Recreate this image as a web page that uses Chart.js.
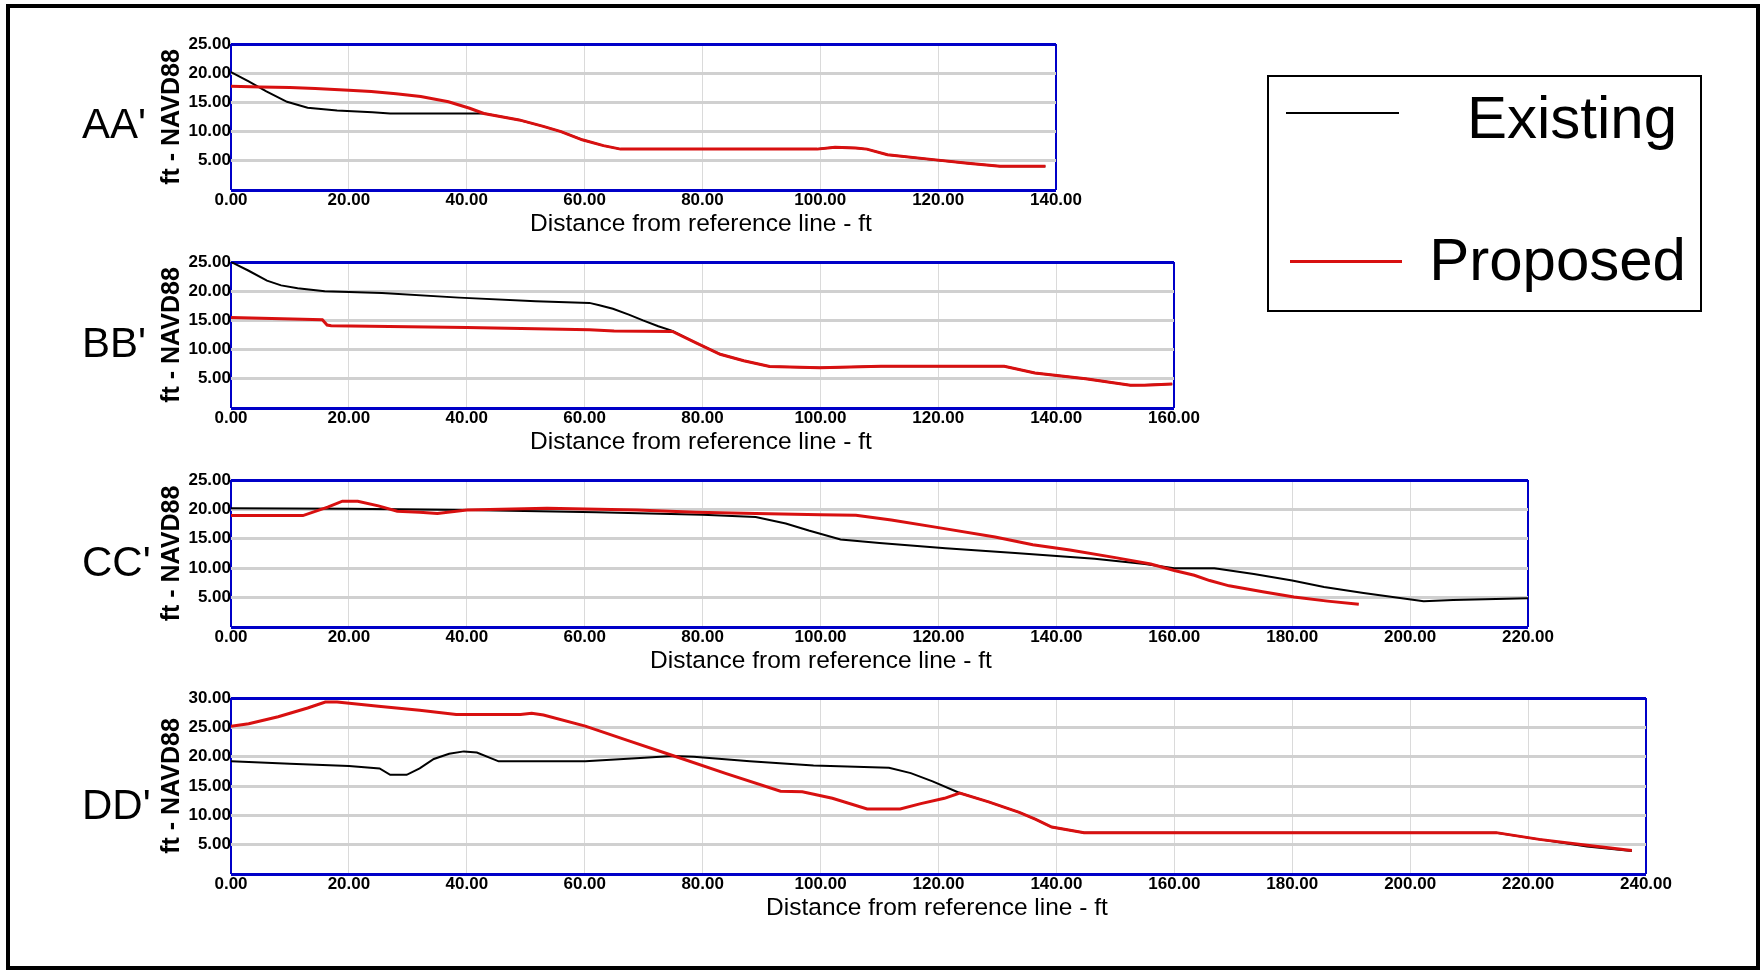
<!DOCTYPE html>
<html>
<head>
<meta charset="utf-8">
<script src="https://cdn.jsdelivr.net/npm/chart.js@4.4.1/dist/chart.umd.min.js"></script>
<style>
html,body{margin:0;padding:0;background:#fff;}
body{width:1761px;height:971px;position:relative;overflow:hidden;font-family:'Liberation Sans',Arial,sans-serif;color:#000;}
canvas{position:absolute;left:0;}
.frame{position:absolute;left:6px;top:4px;width:1754px;height:966px;border:4px solid #000;box-sizing:border-box;}
.sec{position:absolute;left:82px;font-size:42px;line-height:42px;white-space:nowrap;}
.xt{position:absolute;width:600px;text-align:center;font-size:24.5px;line-height:30px;white-space:nowrap;}
.legend{position:absolute;left:1267px;top:75px;width:435px;height:237px;border:2px solid #000;box-sizing:border-box;}
.lgline{position:absolute;}
.lgtext{position:absolute;font-size:60px;line-height:60px;text-align:right;white-space:nowrap;}
</style>
</head>
<body>
<div class="frame"></div>
<script>
// ---------------- data ----------------
const sections = ["AA'", "BB'", "CC'", "DD'"];
const seriesNames = ["Existing", "Proposed"];
const xAxisTitle = "Distance from reference line - ft";
const yAxisTitle = "ft - NAVD88";
const xMaxes = [140, 160, 220, 240];
const yMaxes = [25, 25, 25, 30];
const xStep = 20;
const yStep = 5;

// AA'
const aaExistingX = [0, 3, 6, 9.5, 13, 18, 24, 27, 43, 48.9, 53, 56, 59.6, 63.2, 66.1, 99.5, 102.5, 106, 107.9, 111.4, 119.2, 125, 130.5, 138.2];
const aaExistingY = [20.2, 18.6, 16.9, 15.1, 14.1, 13.6, 13.3, 13.1, 13.1, 12.0, 10.9, 10.0, 8.6, 7.6, 7.0, 7.0, 7.3, 7.2, 7.0, 6.05, 5.2, 4.6, 4.07, 4.07];
const aaProposedX = [0, 5, 10, 14.3, 20, 23.8, 28, 32.2, 36.9, 40.5, 42.9, 48.9, 53, 56, 59.6, 63.2, 66.1, 99.5, 102.5, 106, 107.9, 111.4, 119.2, 125, 130.5, 138.2];
const aaProposedY = [17.75, 17.65, 17.55, 17.4, 17.1, 16.85, 16.5, 16.0, 15.1, 14.0, 13.1, 12.0, 10.9, 10.0, 8.6, 7.6, 7.0, 7.0, 7.3, 7.2, 7.0, 6.05, 5.2, 4.6, 4.07, 4.07];

// BB'
const bbExistingX = [0, 3, 6.1, 8.5, 11.3, 15.9, 25.6, 38.7, 51.7, 60.8, 62.5, 64.8, 67.5, 69.9, 72.5, 74.9, 79, 83, 87, 91.4, 99.9, 110.3, 131.2, 136.4, 145, 152.6, 155, 159.7];
const bbExistingY = [25, 23.5, 21.8, 21.0, 20.5, 20.0, 19.7, 18.9, 18.3, 18.0, 17.6, 17.0, 16.0, 15.0, 14.0, 13.2, 11.1, 9.2, 8.1, 7.1, 6.9, 7.15, 7.15, 6.0, 5.0, 3.9, 3.95, 4.1];
const bbProposedX = [0, 15.5, 16.3, 17, 40, 60.8, 65, 74.9, 79, 83, 87, 91.4, 99.9, 110.3, 131.2, 136.4, 145, 152.6, 155, 159.7];
const bbProposedY = [15.5, 15.1, 14.2, 14.1, 13.8, 13.4, 13.2, 13.1, 11.1, 9.2, 8.1, 7.1, 6.9, 7.15, 7.15, 6.0, 5.0, 3.9, 3.9, 4.1];

// CC'
const ccExistingX = [0, 20, 40, 62, 80, 89, 94.1, 98, 103.4, 110, 121.2, 133, 146.5, 155, 160, 166.8, 173.5, 180, 185.4, 192.1, 202.3, 207.3, 220];
const ccExistingY = [20.2, 20.1, 19.9, 19.5, 19.1, 18.7, 17.6, 16.4, 14.9, 14.3, 13.4, 12.6, 11.6, 10.7, 10.0, 10.0, 9.0, 7.9, 6.8, 5.8, 4.4, 4.6, 4.9];
const ccProposedX = [0, 12.2, 16.4, 18.9, 21.5, 25, 28.2, 32, 35, 40, 53.6, 68.8, 78.9, 89, 100, 106, 112, 120, 129.6, 136, 142.3, 150, 156, 160, 163.4, 166, 169.3, 175, 180.3, 186, 191.3];
const ccProposedY = [18.95, 18.95, 20.4, 21.4, 21.4, 20.6, 19.7, 19.5, 19.3, 19.9, 20.2, 19.9, 19.5, 19.3, 19.1, 19.0, 18.2, 16.9, 15.3, 14.0, 13.1, 11.8, 10.7, 9.6, 8.8, 7.9, 7.0, 6.0, 5.1, 4.4, 3.85];

// DD'
const ddExistingX = [0, 10, 20, 25.2, 27, 29.8, 32, 34.4, 37, 39.5, 41.7, 45.4, 60.1, 68, 74.9, 78.5, 88, 98.8, 111.6, 115.3, 119, 123.6, 128.5, 133.7, 136.5, 139.2, 144.7, 214.6, 221.9, 230, 237.6];
const ddExistingY = [19.2, 18.8, 18.4, 18.0, 16.9, 16.9, 18.0, 19.6, 20.5, 20.9, 20.7, 19.2, 19.2, 19.7, 20.1, 20.0, 19.2, 18.5, 18.1, 17.2, 15.8, 13.8, 12.3, 10.5, 9.3, 8.0, 7.05, 7.05, 5.9, 4.7, 3.9];
const ddProposedX = [0, 3, 8, 13, 16, 18, 25, 32, 38.2, 49.1, 51, 53, 60.1, 67.5, 74.9, 84, 93.2, 96.9, 102, 107.9, 113.5, 117, 121, 123.6, 128.5, 133.7, 136.5, 139.2, 144.7, 214.6, 221.9, 230, 237.6];
const ddProposedY = [25.2, 25.6, 26.8, 28.3, 29.3, 29.3, 28.6, 27.9, 27.2, 27.2, 27.4, 27.1, 25.2, 22.7, 20.2, 17.1, 14.1, 14.0, 12.9, 11.1, 11.1, 12.0, 12.9, 13.8, 12.3, 10.5, 9.3, 8.0, 7.05, 7.05, 5.9, 4.9, 4.0];

const existingSeries = [[aaExistingX, aaExistingY], [bbExistingX, bbExistingY], [ccExistingX, ccExistingY], [ddExistingX, ddExistingY]];
const proposedSeries = [[aaProposedX, aaProposedY], [bbProposedX, bbProposedY], [ccProposedX, ccProposedY], [ddProposedX, ddProposedY]];

// ---------------- layout / style ----------------
const PAGE_W = 1761;
const plotBoxes = [
  {l: 231, r: 1056, t: 44,  b: 190},
  {l: 231, r: 1174, t: 262, b: 408},
  {l: 231, r: 1528, t: 480, b: 627},
  {l: 231, r: 1646, t: 698, b: 874}
];
const secLabelCenterY = [123, 342, 561, 804];
const xTitlePos = [{cx: 701, cy: 222.5}, {cx: 701, cy: 441}, {cx: 821, cy: 660}, {cx: 937, cy: 907}];
const PAD_TOP = 30, PAD_BOT = 40, Y_W = 80, X_H = 26;
const BLUE = '#0000c8';
const RED = '#d81010';
const FONT = "'Liberation Sans', Arial, Helvetica, sans-serif";
Chart.defaults.font.family = FONT;
Chart.defaults.color = '#000';

function toPts(xs, ys) { return xs.map((x, i) => ({x: x, y: ys[i]})); }

plotBoxes.forEach((box, i) => {
  const cv = document.createElement('canvas');
  const top = box.t - PAD_TOP;
  const h = (box.b - box.t) + PAD_TOP + PAD_BOT;
  cv.width = PAGE_W; cv.height = h;
  cv.style.top = top + 'px';
  cv.style.width = PAGE_W + 'px'; cv.style.height = h + 'px';
  document.body.appendChild(cv);
  const xMax = xMaxes[i], yMax = yMaxes[i];
  new Chart(cv, {
    type: 'line',
    data: {
      datasets: [
        {label: seriesNames[0], data: toPts(existingSeries[i][0], existingSeries[i][1]), borderColor: '#000', borderWidth: 2, pointRadius: 0, tension: 0, fill: false, order: 2},
        {label: seriesNames[1], data: toPts(proposedSeries[i][0], proposedSeries[i][1]), borderColor: RED, borderWidth: 3, pointRadius: 0, tension: 0, fill: false, order: 1}
      ]
    },
    options: {
      responsive: false, animation: false, events: [],
      layout: {padding: {top: PAD_TOP, left: box.l - Y_W, right: PAGE_W - box.r, bottom: PAD_BOT - X_H}},
      plugins: {legend: {display: false}, tooltip: {enabled: false}},
      scales: {
        x: {
          type: 'linear', min: 0, max: xMax,
          ticks: {stepSize: xStep, padding: 0, autoSkip: false, maxRotation: 0, color: '#000',
                  font: {size: 17, weight: 'bold'}, callback: v => Number(v).toFixed(2)},
          grid: {drawTicks: false,
                 color: c => (c.tick && (c.tick.value === 0 || c.tick.value === xMax)) ? BLUE : '#dadada',
                 lineWidth: c => (c.tick && (c.tick.value === 0 || c.tick.value === xMax)) ? 2 : 1},
          border: {display: false},
          afterFit: s => { s.height = X_H; }
        },
        y: {
          type: 'linear', min: 0, max: yMax,
          ticks: {stepSize: yStep, padding: 0, color: '#000', font: {size: 17, weight: 'bold'},
                  callback: v => v === 0 ? '' : Number(v).toFixed(2)},
          grid: {drawTicks: false,
                 color: c => (c.tick && (c.tick.value === 0 || c.tick.value === yMax)) ? BLUE : '#d0d0d0',
                 lineWidth: c => (c.tick && (c.tick.value === 0 || c.tick.value === yMax)) ? 3 : 3},
          border: {display: false},
          title: {display: true, text: yAxisTitle, color: '#000', font: {size: 25, weight: 'bold'}, padding: {top: 6, bottom: 0}},
          afterFit: s => { s.width = Y_W; }
        }
      }
    }
  });

  const sl = document.createElement('div');
  sl.className = 'sec';
  sl.textContent = sections[i];
  sl.style.top = (secLabelCenterY[i] - 20.5) + 'px';
  document.body.appendChild(sl);

  const xt = document.createElement('div');
  xt.className = 'xt';
  xt.textContent = xAxisTitle;
  xt.style.left = (xTitlePos[i].cx - 300) + 'px';
  xt.style.top = (xTitlePos[i].cy - 15) + 'px';
  document.body.appendChild(xt);
});

// legend
const lg = document.createElement('div');
lg.className = 'legend';
document.body.appendChild(lg);
const legendItems = [
  {name: seriesNames[0], color: '#000', lineLeft: 1286, lineTop: 112, lineW: 113, lineH: 2, textRight: 1677, capCenter: 117},
  {name: seriesNames[1], color: RED, lineLeft: 1290, lineTop: 260, lineW: 112, lineH: 3, textRight: 1686, capCenter: 259}
];
legendItems.forEach(it => {
  const ln = document.createElement('div');
  ln.className = 'lgline';
  ln.style.left = it.lineLeft + 'px'; ln.style.top = it.lineTop + 'px';
  ln.style.width = it.lineW + 'px'; ln.style.height = it.lineH + 'px';
  ln.style.background = it.color;
  document.body.appendChild(ln);
  const tx = document.createElement('div');
  tx.className = 'lgtext';
  tx.textContent = it.name;
  tx.style.left = (it.textRight - 400) + 'px';
  tx.style.width = '400px';
  tx.style.top = (it.capCenter - 29) + 'px';
  document.body.appendChild(tx);
});
</script>
</body>
</html>
